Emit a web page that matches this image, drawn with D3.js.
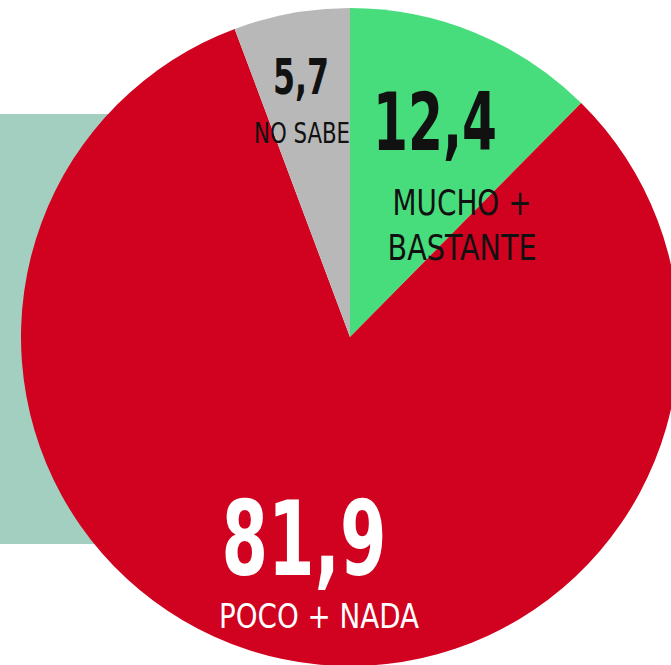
<!DOCTYPE html>
<html>
<head>
<meta charset="utf-8">
<script src="https://cdn.jsdelivr.net/npm/d3@7"></script>
<style>
  html, body { margin: 0; padding: 0; background: #fff; }
  svg { display: block; }
  text { font-family: "Liberation Sans Narrow", "Arial Narrow", "DejaVu Sans", sans-serif; font-stretch: condensed; }
</style>
</head>
<body>
<div id="chart"></div>
<script>
// Survey answers (percent)
const categories = ['MUCHO + BASTANTE', 'POCO + NADA', 'NO SABE'];
const values = [12.4, 81.9, 5.7];
const valueLabels = ['12,4', '81,9', '5,7'];
const colors = ['#48dd7c', '#d0021f', '#b8b8b8'];

const width = 671, height = 665;
const cx = 350, cy = 337, radius = 329;

const svg = d3.select('#chart').append('svg')
    .attr('width', width)
    .attr('height', height);

// teal panel behind the pie
svg.append('rect')
    .attr('x', 0).attr('y', 114)
    .attr('width', 200).attr('height', 430)
    .style('fill', '#a2cfc0');

const pie = d3.pie().sort(null).value(d => d);
const arc = d3.arc().innerRadius(0).outerRadius(radius);

const g = svg.append('g').attr('transform', `translate(${cx},${cy})`);

g.selectAll('path')
    .data(pie(values))
    .join('path')
    .attr('d', arc)
    .style('fill', (d, i) => colors[i]);

// label layout, offsets from pie centre
const labelLayout = [
    { num: [85, -187, 80, 124, '#111'], lines: [['MUCHO +', 112, -122, 35, 139], ['BASTANTE', 112, -77, 35, 149]], color: '#111' },
    { num: [-46, 238, 104, 165, '#fff'], lines: [['POCO + NADA', -31, 291, 34, 200]], color: '#fff' },
    { num: [-49, -243, 50, 56, '#111'], lines: [['NO SABE', -48, -194, 28, 96]], color: '#111' }
];

labelLayout.forEach((l, i) => {
    const [nx, ny, ns, nw, nc] = l.num;
    g.append('text')
        .attr('x', nx).attr('y', ny)
        .attr('text-anchor', 'middle')
        .attr('textLength', nw)
        .attr('lengthAdjust', 'spacingAndGlyphs')
        .style('font-size', ns + 'px')
        .style('font-weight', 'bold')
        .style('fill', nc)
        .text(valueLabels[i]);
    l.lines.forEach(([t, x, y, s, w]) => {
        g.append('text')
            .attr('x', x).attr('y', y)
            .attr('text-anchor', 'middle')
            .attr('textLength', w)
            .attr('lengthAdjust', 'spacingAndGlyphs')
            .style('font-size', s + 'px')
            .style('fill', l.color)
            .text(t);
    });
});
</script>
</body>
</html>
